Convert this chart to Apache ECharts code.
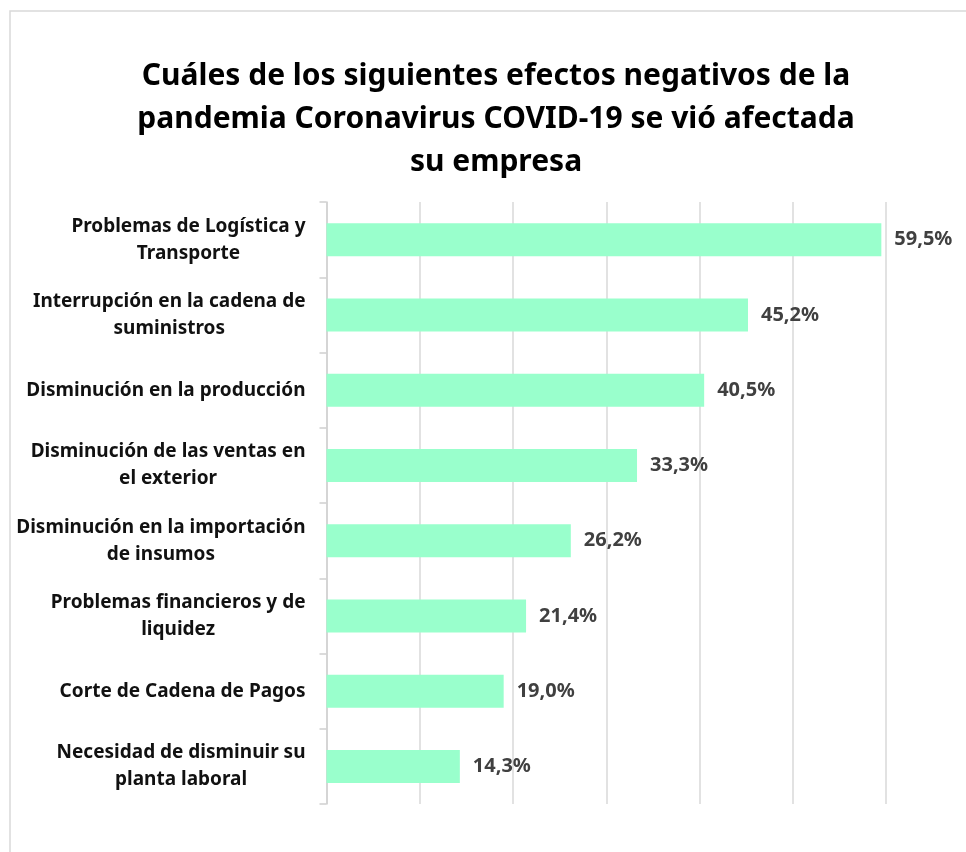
<!DOCTYPE html>
<html>
<head>
<meta charset="utf-8">
<script src="https://cdn.jsdelivr.net/npm/echarts@6/dist/echarts.min.js"></script>
<style>
html,body{margin:0;padding:0;background:#fff;}
#chart{width:966px;height:852px;}
</style>
</head>
<body>
<div id="chart"></div>
<script>
const titleText = "Cuáles de los siguientes efectos negativos de la\npandemia Coronavirus COVID-19 se vió afectada\nsu empresa";
const categories = [
  "Problemas de Logística y\nTransporte",
  "Interrupción en la cadena de\nsuministros",
  "Disminución en la producción",
  "Disminución de las ventas en\nel exterior",
  "Disminución en la importación\nde insumos",
  "Problemas financieros y de\nliquidez",
  "Corte de Cadena de Pagos",
  "Necesidad de disminuir su\nplanta laboral"
];
const values = [59.5, 45.2, 40.5, 33.3, 26.2, 21.4, 19.0, 14.3];
const xMin = 0, xMax = 60, xInterval = 10;

const chart = echarts.init(document.getElementById('chart'));
const FONT = '"Noto Sans", "Open Sans", sans-serif';
chart.setOption({
  backgroundColor: '#ffffff',
  animation: false,
  graphic: [{
    type: 'rect',
    shape: { x: 10, y: 11, width: 1000, height: 1000 },
    style: { fill: 'none', stroke: '#d9d9d9', lineWidth: 1.5 },
    silent: true
  }],
  title: {
    text: titleText,
    left: 491,
    textAlign: 'center',
    top: 50,
    textStyle: {
      fontFamily: FONT,
      fontWeight: 'bold',
      fontSize: 30,
      lineHeight: 43,
      color: '#000000'
    }
  },
  grid: { left: 326.5, right: 80, top: 202, bottom: 48, containLabel: false },
  xAxis: {
    type: 'value',
    min: xMin, max: xMax, interval: xInterval,
    axisLabel: { show: false },
    axisLine: { show: false },
    axisTick: { show: false },
    splitLine: { show: true, lineStyle: { color: '#d9d9d9', width: 1.5 } }
  },
  yAxis: {
    type: 'category',
    inverse: true,
    data: categories,
    axisLine: { show: true, lineStyle: { color: '#d0d0d0', width: 1.5 } },
    axisTick: { show: true, length: 7, lineStyle: { color: '#d0d0d0', width: 1.5 } },
    axisLabel: {
      margin: 21,
      align: 'right',
      formatter: function (v) {
        return v.split('\n').map(function (l) { return '{c|' + l + '}'; }).join('\n');
      },
      rich: {
        c: {
          align: 'center',
          fontFamily: FONT,
          fontWeight: 'bold',
          fontSize: 19,
          lineHeight: 27,
          color: '#111111'
        }
      }
    }
  },
  series: [{
    type: 'bar',
    data: values,
    barWidth: 33,
    itemStyle: { color: '#99ffcc' },
    label: {
      show: true,
      position: 'right',
      distance: 13,
      fontFamily: FONT,
      fontWeight: 'bold',
      fontSize: 20,
      color: '#404040',
      formatter: function (p) { return p.value.toFixed(1).replace('.', ',') + '%'; }
    }
  }]
});
</script>
</body>
</html>
